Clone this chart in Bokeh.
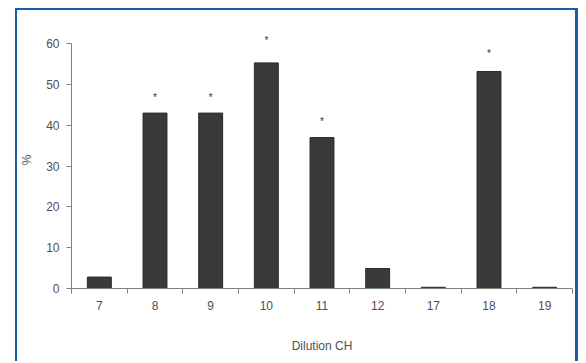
from bokeh.plotting import figure
from bokeh.models import (Range1d, FactorRange, LinearAxis, CategoricalAxis, FixedTicker,
                          CustomJSTickFormatter)
from bokeh.core.properties import value
from bokeh.embed import file_html
from bokeh.resources import INLINE

# data
dilutions = ["7", "8", "9", "10", "11", "12", "17", "18", "19"]
percent = [2.8, 43.0, 43.0, 55.3, 37.0, 4.9, 0.3, 53.2, 0.3]
star_cats = ["8", "9", "10", "11", "18"]
star_pos = [46.9, 46.9, 60.9, 40.9, 57.6]
y_ticks = [0, 10, 20, 30, 40, 50, 60]

FONT = "Liberation Sans"
TXT = "#505050"
AX = "#808080"
BLUE = "#1d5ca8"

p = figure(width=563, height=353, x_range=FactorRange(*dilutions), y_range=Range1d(0, 63),
           output_backend="svg", toolbar_location=None,
           min_border_left=51, min_border_right=8, min_border_top=21, min_border_bottom=75,
           x_axis_location=None)
p.styles = {"margin-left": "15px", "margin-top": "8px", "border-top": f"2px solid {BLUE}",
            "border-left": f"2px solid {BLUE}", "border-right": f"3px solid {BLUE}"}
p.outline_line_color = None
p.grid.visible = False
p.background_fill_color = "white"
p.border_fill_color = "white"

p.vbar(x=dilutions, top=percent, width=0.43, fill_color="#3a3a3a", line_color="#2a2a2a", line_width=1)
p.text(x=star_cats, y=star_pos, text=["*"] * len(star_cats), text_align="center",
       text_baseline="middle", text_font=value(FONT), text_font_size="10px", text_color="#333333")

# y axis
ya = p.yaxis[0]
ya.bounds = (0, 60)
ya.ticker = FixedTicker(ticks=y_ticks)
ya.minor_tick_line_color = None
ya.major_tick_in = 0
ya.major_tick_out = 5
ya.axis_line_color = AX
ya.major_tick_line_color = AX
ya.major_label_text_font = FONT
ya.major_label_text_font_size = "12px"
ya.major_label_text_color = TXT
ya.major_label_standoff = 7
ya.axis_label = "%"
ya.axis_label_text_font = FONT
ya.axis_label_text_font_size = "12px"
ya.axis_label_text_font_style = "normal"
ya.axis_label_text_color = TXT
ya.axis_label_standoff = 9

# x axis: boundary ticks (synthetic coordinates of the factor range: 0 .. n)
xt = LinearAxis(ticker=FixedTicker(ticks=list(range(len(dilutions) + 1))))
xt.formatter = CustomJSTickFormatter(code="return ''")
xt.major_tick_in = 0
xt.major_tick_out = 5
xt.minor_tick_line_color = None
xt.axis_line_color = AX
xt.major_tick_line_color = AX
xt.major_label_text_font_size = "1px"
xt.major_label_standoff = 0
p.add_layout(xt, "below")

# x axis: category labels
xl = CategoricalAxis()
xl.axis_line_color = None
xl.major_tick_line_color = None
xl.major_tick_out = 0
xl.major_tick_in = 0
xl.major_label_text_font = FONT
xl.major_label_text_font_size = "12px"
xl.major_label_text_color = TXT
xl.major_label_standoff = 7
xl.axis_label = "Dilution CH"
xl.axis_label_text_font = FONT
xl.axis_label_text_font_size = "12px"
xl.axis_label_text_font_style = "normal"
xl.axis_label_text_color = TXT
xl.axis_label_standoff = 26
p.add_layout(xl, "below")

open("out.html", "w").write(file_html(p, INLINE))
